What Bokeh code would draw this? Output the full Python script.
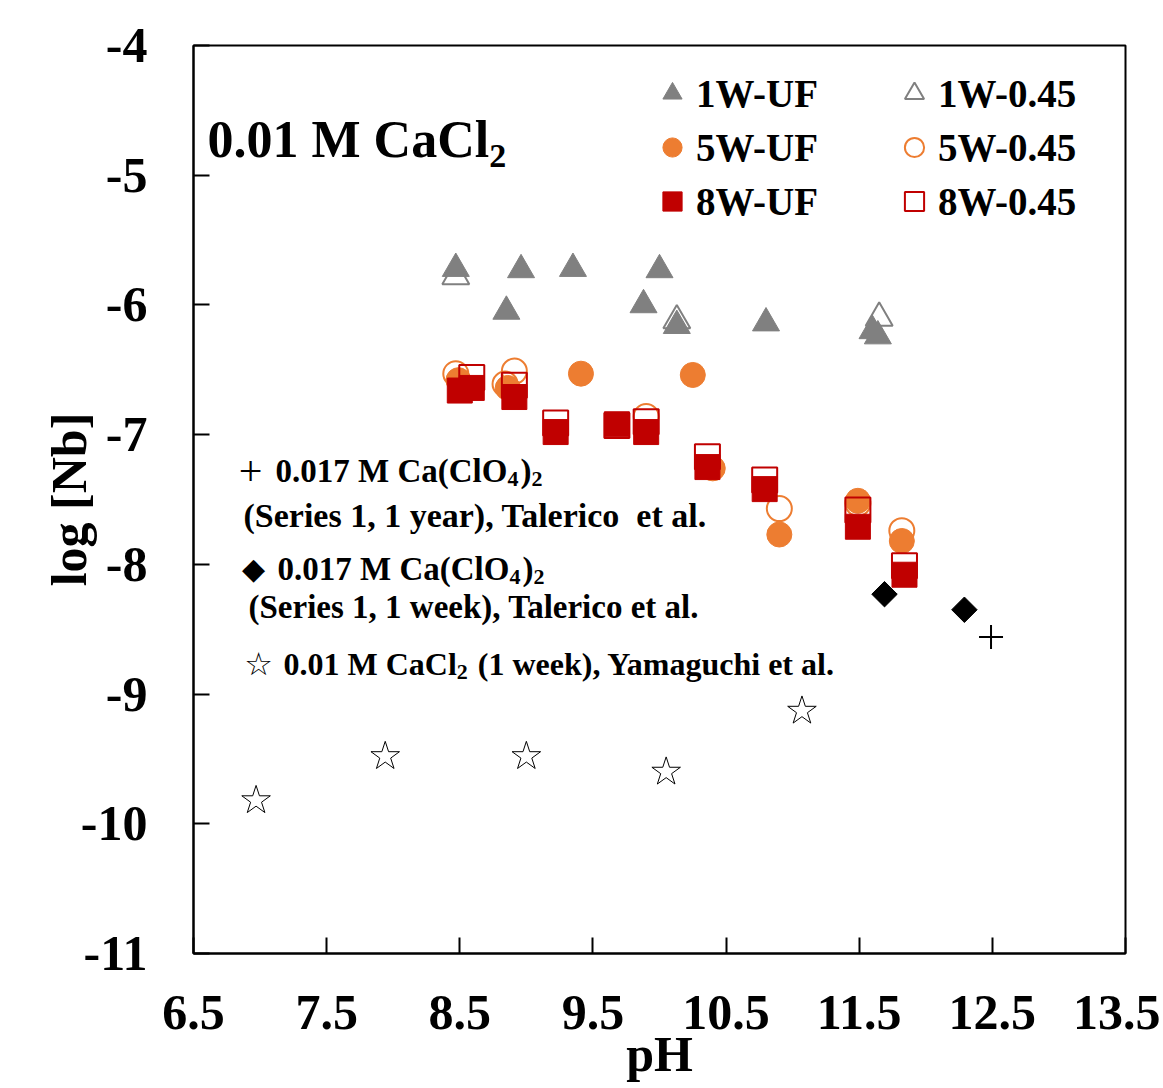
import math
from bokeh.plotting import figure
from bokeh.models import Range1d, FixedTicker, Label, Legend, LegendItem
from bokeh.embed import file_html
from bokeh.resources import INLINE

# ---------------- data ----------------
x_ticks = [6.5, 7.5, 8.5, 9.5, 10.5, 11.5, 12.5, 13.5]
y_ticks = [-11, -10, -9, -8, -7, -6, -5, -4]

ph_1w_uf = [8.47, 8.85, 8.96, 9.35, 9.88, 10.00, 10.13, 10.80, 11.60, 11.64]
lg_1w_uf = [-5.72, -6.05, -5.73, -5.72, -6.00, -5.73, -6.16, -6.14, -6.20, -6.24]

ph_1w_045 = [8.47, 10.13, 11.65]
lg_1w_045 = [-5.78, -6.12, -6.10]

ph_5w_uf = [8.49, 8.86, 9.41, 10.25, 10.40, 10.90, 11.49, 11.82]
lg_5w_uf = [-6.58, -6.64, -6.53, -6.54, -7.26, -7.77, -7.51, -7.82]

ph_5w_045 = [8.47, 8.84, 8.91, 9.90, 10.90, 11.49, 11.82]
lg_5w_045 = [-6.53, -6.61, -6.51, -6.86, -7.57, -7.53, -7.74]

ph_8w_uf = [8.50, 8.59, 8.91, 9.22, 9.68, 9.90, 10.36, 10.79, 11.49, 11.84]
lg_8w_uf = [-6.66, -6.64, -6.71, -6.98, -6.92, -6.98, -7.25, -7.42, -7.71, -8.08]

ph_8w_045 = [8.59, 8.91, 9.22, 9.68, 9.90, 10.36, 10.79, 11.49, 11.84]
lg_8w_045 = [-6.56, -6.62, -6.91, -6.93, -6.90, -7.17, -7.35, -7.58, -8.01]

ph_tal_week = [11.69, 12.29]
lg_tal_week = [-8.23, -8.35]

ph_tal_year = [12.49]
lg_tal_year = [-8.56]

ph_yam = [6.97, 7.94, 9.00, 10.05, 11.07]
lg_yam = [-9.82, -9.48, -9.48, -9.60, -9.13]

GRAY = "#808080"
ORANGE = "#ED7D31"
RED = "#C00000"
FONT = "Liberation Serif"

# frame placement on the page (px)
FL, FT, FW, FH = 193, 45, 932, 908
FB = FT + FH
W, H = 1160, 1086

# ---------------- figure ----------------
p = figure(width=W, height=H,
           x_range=Range1d(6.5, 13.5), y_range=Range1d(-11, -4),
           output_backend="svg", toolbar_location=None,
           min_border_left=FL, min_border_top=FT,
           min_border_right=W - FL - FW, min_border_bottom=H - FB)
p.xgrid.visible = False
p.ygrid.visible = False
p.outline_line_color = "black"
p.outline_line_width = 2
p.outline_line_alpha = 1.0

for ax in (p.xaxis[0], p.yaxis[0]):
    ax.axis_line_width = 2
    ax.major_tick_line_width = 2
    ax.major_tick_in = 16
    ax.major_tick_out = 0
    ax.minor_tick_in = 0
    ax.minor_tick_out = 0
    ax.major_label_text_font = FONT
    ax.major_label_text_font_style = "bold"
    ax.major_label_text_font_size = "50px"
    ax.major_label_text_color = "black"
    ax.axis_label_text_font = FONT
    ax.axis_label_text_font_style = "bold"
    ax.axis_label_text_font_size = "50px"
    ax.axis_label_text_color = "black"

p.xaxis.ticker = FixedTicker(ticks=x_ticks)
p.xaxis.major_label_overrides = {t: f"{t:g}" for t in x_ticks}
p.xaxis.major_label_standoff = 42
p.xaxis.axis_label = "pH"
p.xaxis.axis_label_standoff = -6

p.yaxis.ticker = FixedTicker(ticks=y_ticks)
p.yaxis.major_label_overrides = {t: str(t) for t in y_ticks}
p.yaxis.major_label_standoff = 46
p.yaxis.axis_label = "log [Nb]"
p.yaxis.axis_label_standoff = -19

# ---------------- literature data ----------------
p.scatter(ph_yam, lg_yam, marker="star", size=30, fill_color="white",
          line_color="black", line_width=1)
p.scatter(ph_tal_year, lg_tal_year, marker="cross", size=24,
          line_color="black", line_width=2)
p.scatter(ph_tal_week, lg_tal_week, marker="square", angle=math.pi / 4, size=18,
          fill_color="black", line_color="black")

# ---------------- this study ----------------
r_1w_045 = p.scatter(ph_1w_045, lg_1w_045, marker="triangle", size=27,
                     fill_color=None, line_color=GRAY, line_width=2)
r_1w_uf = p.scatter(ph_1w_uf, lg_1w_uf, marker="triangle", size=27,
                    fill_color=GRAY, line_color=GRAY, line_width=1)
r_5w_045 = p.scatter(ph_5w_045, lg_5w_045, marker="circle", size=25,
                     fill_color=None, line_color=ORANGE, line_width=2)
r_5w_uf = p.scatter(ph_5w_uf, lg_5w_uf, marker="circle", size=25,
                    fill_color=ORANGE, line_color=ORANGE, line_width=1)
r_8w_045 = p.scatter(ph_8w_045, lg_8w_045, marker="square", size=25,
                     fill_color=None, line_color=RED, line_width=2)
r_8w_uf = p.scatter(ph_8w_uf, lg_8w_uf, marker="square", size=25,
                    fill_color=RED, line_color=RED, line_width=1)


# ---------------- legends ----------------
def make_legend(items, center_px):
    gw = 48
    return Legend(items=items, location=(center_px - gw // 2 - FL, FB - 228),
                  orientation="vertical", glyph_width=gw, glyph_height=54,
                  label_standoff=0, spacing=0, padding=0, margin=0,
                  border_line_color=None, background_fill_alpha=0,
                  label_text_font=FONT, label_text_font_style="bold",
                  label_text_font_size="39px", label_text_color="black")


leg1 = make_legend([LegendItem(label="1W-UF", renderers=[r_1w_uf]),
                    LegendItem(label="5W-UF", renderers=[r_5w_uf]),
                    LegendItem(label="8W-UF", renderers=[r_8w_uf])], 672)
leg2 = make_legend([LegendItem(label="1W-0.45", renderers=[r_1w_045]),
                    LegendItem(label="5W-0.45", renderers=[r_5w_045]),
                    LegendItem(label="8W-0.45", renderers=[r_8w_045])], 914)
p.add_layout(leg1)
p.add_layout(leg2)

# ---------------- text annotations ----------------
ADV = {' ': 250, '\u00a0': 250, '(': 333, ')': 333, ',': 250, '.': 250, '-': 333,
       '0': 500, '1': 500, '2': 500, '4': 500, '7': 500,
       'C': 722, 'M': 944, 'O': 778, 'S': 556, 'T': 667, 'Y': 722,
       'a': 500, 'c': 444, 'e': 444, 'g': 500, 'h': 556, 'i': 278,
       'k': 556, 'l': 278, 'm': 833, 'o': 500, 'r': 444, 's': 389,
       't': 333, 'u': 556, 'w': 722, 'y': 500}


def tw(s, size):
    return sum(ADV.get(c, 500) for c in s) / 1000.0 * size


def put(X, Y, text, size, font=FONT, style="bold", align="left"):
    # X, Y: page pixels; Y is the vertical middle of the text
    p.add_layout(Label(x=X - FL, y=FB - Y, x_units="screen", y_units="screen",
                       text=text, text_font=font, text_font_style=style,
                       text_font_size=f"{size}px", text_color="black",
                       text_align=align, text_baseline="middle"))


def put_runs(X, Y, runs, size, sub_size, sub_drop):
    x = X
    for txt, is_sub in runs:
        lead = len(txt) - len(txt.lstrip(" "))
        x += tw(" " * lead, size if not is_sub else sub_size)
        txt = txt.lstrip(" ")
        if is_sub:
            put(x, Y + sub_drop, txt, sub_size)
            x += tw(txt, sub_size) + 2
        else:
            put(x, Y, txt, size)
            x += tw(txt, size)


# title
put_runs(207, 139, [("0.01 M CaCl", False), ("2", True)], 52, 34, 16)

# literature legend block
put(250, 470, "+", 42, style="normal", align="center")
put_runs(275, 470, [("0.017 M Ca(ClO", False), ("4", True), (")", False), ("2", True)], 33, 22, 8)
put(243, 515, "(Series 1, 1 year), Talerico\u00a0\u00a0et al.", 34)

put(253, 568, "\u25C6", 30, font="DejaVu Sans", style="normal", align="center")
put_runs(277, 568, [("0.017 M Ca(ClO", False), ("4", True), (")", False), ("2", True)], 33, 22, 8)
put(248, 606, "(Series 1, 1 week), Talerico et al.", 33)

put(258, 663, "\u2606", 32, font="DejaVu Sans", style="normal", align="center")
put_runs(283, 663, [("0.01 M CaCl", False), ("2", True), (" (1 week), Yamaguchi et al.", False)], 32, 22, 8)

open("out.html", "w").write(file_html(p, INLINE))
